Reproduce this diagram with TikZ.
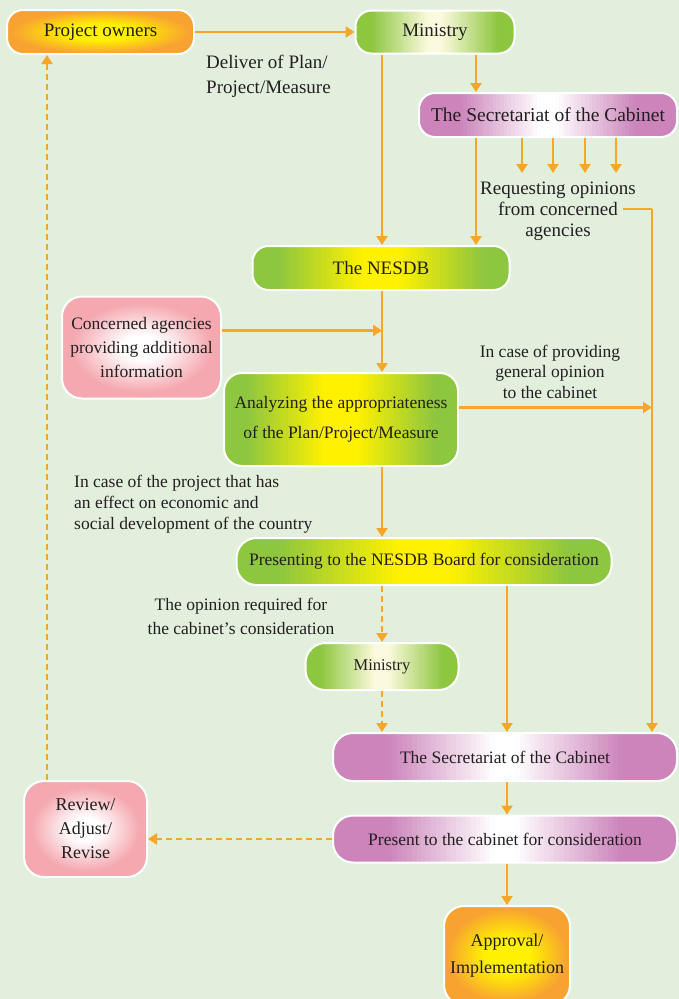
\documentclass[tikz,border=0pt]{standalone}
\usepackage{fontspec}
\setmainfont{Liberation Serif}
\usetikzlibrary{arrows.meta,calc}
\definecolor{bgc}{RGB}{227,239,221}
\definecolor{arrc}{RGB}{247,166,38}
\definecolor{txt}{RGB}{35,31,32}
\definecolor{gE}{RGB}{141,198,63}
\definecolor{yC}{RGB}{255,241,0}
\definecolor{cream}{RGB}{252,250,222}
\definecolor{pE}{RGB}{204,132,187}
\definecolor{pkE}{RGB}{245,168,176}
\definecolor{oE}{RGB}{248,162,50}
\pgfdeclareradialshading{pinkwhite}{\pgfpoint{0bp}{0bp}}{color(0bp)=(white); color(6bp)=(white); color(22bp)=(pkE); color(50bp)=(pkE)}
\pgfdeclareradialshading{orangeyel}{\pgfpoint{0bp}{0bp}}{color(0bp)=(yC); color(9bp)=(yC); color(24bp)=(oE); color(50bp)=(oE)}
\tikzset{
  box/.style={draw=white, line width=2pt, rounded corners=16pt, text=txt, align=center, inner sep=0pt},
  hgrad/.style n args={4}{path picture={
    \foreach \i in {0,...,69} {
      \pgfmathsetmacro\ta{\i/70}
      \pgfmathsetmacro\tb{(\i+1.6)/70}
      \pgfmathsetmacro\dd{abs((\i+0.5)/70-0.5)*2}
      \pgfmathsetmacro\mm{min(100,max(0,(\dd-#3)/(#4-#3)*100))}
      \fill[#1!\mm!#2, sharp corners] ($(path picture bounding box.south west)!\ta!(path picture bounding box.south east)$) rectangle ($(path picture bounding box.north west)!\tb!(path picture bounding box.north east)$);
    }
  }},
  lbl/.style={text=txt, inner sep=0pt},
  fbig/.style={font=\fontsize{19}{23}\selectfont},
  fmid/.style={font=\fontsize{17.5}{24}\selectfont},
  arr/.style={draw=arrc, line width=2.2pt, -{Triangle[width=11pt,length=9pt]}},
  darr/.style={arr, dash pattern=on 6pt off 4pt},
  ln/.style={draw=arrc, line width=2.2pt}
}
\begin{document}
\begin{tikzpicture}[x=1pt,y=-1pt]
\useasboundingbox (0,0) rectangle (679,999);
\fill[bgc] (0,0) rectangle (679,999);

% nodes
\node[box, shading=orangeyel, minimum width=187pt, minimum height=44pt, fbig] (po) at (100.5,32) {Project owners};
\node[box, hgrad={gE}{cream}{0.08}{0.8}, minimum width=159pt, minimum height=43pt, fbig] (min1) at (435,32) {Ministry};
\node[box, hgrad={pE}{white}{0.06}{0.68}, minimum width=258pt, minimum height=44pt, font=\fontsize{19.5}{23}\selectfont] (sec1) at (548,115) {The Secretariat of the Cabinet};
\node[box, hgrad={gE}{yC}{0.14}{0.8}, minimum width=257pt, minimum height=44pt, fbig] (nesdb) at (381,268) {The NESDB};
\node[box, shading=pinkwhite, rounded corners=20pt, minimum width=159pt, minimum height=102pt, fmid] (conc) at (141.5,347.5) {Concerned agencies\\providing additional\\information};
\node[box, hgrad={gE}{yC}{0.14}{0.8}, rounded corners=18pt, minimum width=234pt, minimum height=93pt, font=\fontsize{17.5}{30}\selectfont] (anal) at (341,419.5) {Analyzing the appropriateness\\of the Plan/Project/Measure};
\node[box, hgrad={gE}{yC}{0.14}{0.78}, rounded corners=20pt, minimum width=375pt, minimum height=47pt, fmid] (pres) at (424,561.5) {Presenting to the NESDB Board for consideration};
\node[box, hgrad={gE}{cream}{0.08}{0.8}, rounded corners=20pt, minimum width=153pt, minimum height=47pt, font=\fontsize{16.5}{22}\selectfont] (min2) at (382,666.5) {Ministry};
\node[box, hgrad={pE}{white}{0.06}{0.68}, rounded corners=20pt, minimum width=344pt, minimum height=48pt, fmid] (sec2) at (505,757) {The Secretariat of the Cabinet};
\node[box, hgrad={pE}{white}{0.06}{0.68}, rounded corners=20pt, minimum width=344pt, minimum height=47pt, fmid] (pc) at (505,839) {Present to the cabinet for consideration};
\node[box, shading=pinkwhite, rounded corners=20pt, minimum width=123pt, minimum height=96pt, font=\fontsize{18}{24}\selectfont] (rev) at (85.5,829) {Review/\\Adjust/\\Revise};
\node[box, shading=orangeyel, rounded corners=20pt, minimum width=126pt, minimum height=99pt, font=\fontsize{18}{27}\selectfont] (appr) at (507,955.5) {Approval/\\Implementation};

% labels
\node[lbl, align=left, anchor=west, font=\fontsize{19}{25}\selectfont] (deliver) at (206,76) {Deliver of Plan/\\Project/Measure};
\node[lbl, align=center, font=\fontsize{19}{21}\selectfont] (req) at (558,211) {Requesting opinions\\from concerned\\agencies};
\node[lbl, align=center, font=\fontsize{17.5}{20.5}\selectfont] (caseprov) at (550,371.5) {In case of providing\\general opinion\\to the cabinet};
\node[lbl, align=left, anchor=west, font=\fontsize{17.5}{21}\selectfont] (caseproj) at (74,504) {In case of the project that has\\an effect on economic and\\social development of the country};
\node[lbl, align=center, font=\fontsize{17.5}{24}\selectfont] (opin) at (241,616) {The opinion required for\\the cabinet’s consideration};

\coordinate (reqout) at (623,209);
\coordinate (rc) at (652,209);

% connectors
\draw[arr] (po.east) -- (min1.west);
\draw[arr] (min1.south -| 382,0) -- (nesdb.north -| 382,0);
\draw[arr] (min1.south -| 476,0) -- (sec1.north -| 476,0);
\draw[arr] (sec1.south -| 476,0) -- (nesdb.north -| 476,0);
\foreach \xx in {522,553,585,616} \draw[arr] (sec1.south -| \xx,0) -- (\xx,173);
\draw[ln] (reqout) -- (rc);
\draw[arr] (rc) -- (rc |- sec2.north);
\draw[arr] (nesdb.south -| 382,0) -- (anal.north -| 382,0);
\draw[arr] ($(conc.east)+(0,-17)$) -- ($(conc.east -| 382,0)+(0,-17)$);
\draw[arr] ($(anal.east)+(0,-12)$) -- ($(anal.east -| rc)+(0,-12)$);
\draw[arr] (anal.south -| 382,0) -- (pres.north -| 382,0);
\draw[darr] (pres.south -| min2) -- (min2.north);
\draw[arr] (pres.south -| 507,0) -- (sec2.north -| 507,0);
\draw[darr] (min2.south) -- (min2.south |- sec2.north);
\draw[arr] (sec2.south -| 507,0) -- (pc.north -| 507,0);
\draw[darr] (pc.west) -- (pc.west -| rev.east);
\draw[darr] (rev.north -| 47,0) -- (po.south -| 47,0);
\draw[arr] (pc.south -| 507,0) -- (appr.north);
\end{tikzpicture}
\end{document}
